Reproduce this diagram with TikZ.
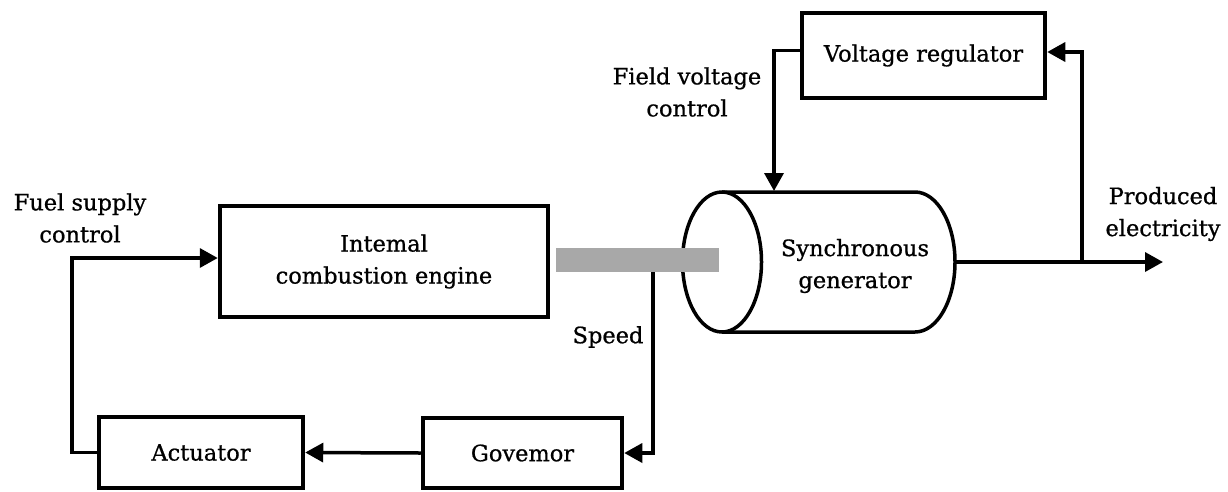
\documentclass[tikz,border=0pt]{standalone}
\usepackage{fontspec}
\setmainfont{DejaVu Serif}[FakeBold=0.8]
\usetikzlibrary{arrows.meta}
\definecolor{shaftgray}{RGB}{168,168,168}
\begin{document}
\begin{tikzpicture}[x=1pt,y=-1pt,
  font=\fontsize{22.5}{32}\selectfont,
  block/.style={draw, line width=4.5pt, rectangle, inner sep=0pt, align=center},
  conn/.style={line width=3.5pt, line join=miter, -{Triangle[length=18pt,width=19pt]}},
  lbl/.style={align=center, inner sep=0pt}]
\useasboundingbox (0,0) rectangle (1228,491);

% blocks
\node[block, minimum width=328pt, minimum height=111pt] (eng) at (384,261.5) {Intemal\\combustion engine};
\node[block, minimum width=204pt, minimum height=71pt] (act) at (201,452.5) {Actuator};
\node[block, minimum width=199pt, minimum height=70pt] (gov) at (522.5,453) {Govemor};
\node[block, minimum width=243pt, minimum height=85pt] (vr) at (923.5,55.5) {Voltage regulator};

% synchronous generator drawn as a cylinder
\draw[line width=3.5pt] (722,192) -- (915,192)
  arc[start angle=90, end angle=-90, x radius=40pt, y radius=70pt]
  -- (722,332);
\draw[line width=3.5pt, fill=white] (722,262) ellipse[x radius=39.5pt, y radius=70pt];
\node[lbl] (gen) at (855,266) {Synchronous\\generator};
\coordinate (genR) at (955,262);
\coordinate (genTop) at (774,191);

% shaft between engine and generator
\fill[shaftgray] (556,248) rectangle (719,272);
\coordinate (shaftTap) at (653,272);

% connectors
\draw[conn] (act.west) -- ++(-25,0) |- ([yshift=3.5pt]eng.west);
\draw[conn] (gov.west) -- (act.east);
\draw[conn] (shaftTap) |- (gov.east);
\draw[conn] ([yshift=5pt]vr.west) -| (genTop);
\coordinate (out) at (1163,262);
\coordinate (tap) at (1082,262);
\draw[conn] (genR) -- (out);
\draw[conn] (tap) |- ([yshift=3.5pt]vr.east);

% labels
\node[lbl] (fuel) at (80,218) {Fuel supply\\control};
\node[lbl] (field) at (687,92) {Field voltage\\control};
\node[lbl] (speed) at (608,337) {Speed};
\node[lbl] (prod) at (1163,214) {Produced\\electricity};
\end{tikzpicture}
\end{document}
